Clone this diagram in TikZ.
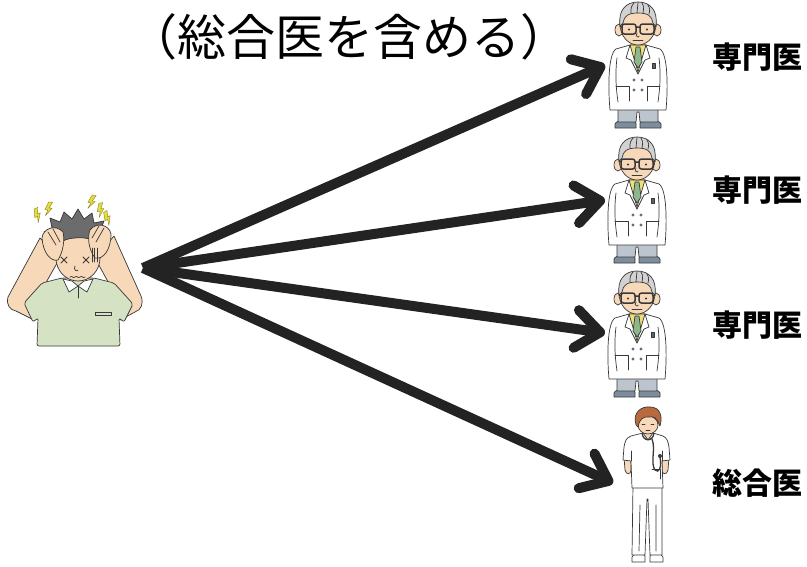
\documentclass[tikz,border=0pt]{standalone}
\usepackage{fontspec}
\newfontfamily\jpfont{Noto Sans CJK JP}
\usetikzlibrary{arrows.meta}

\definecolor{arrowink}{HTML}{232323}
\definecolor{outline}{HTML}{383838}
\definecolor{skin}{HTML}{F7D8B8}
\definecolor{grayhair}{HTML}{D2D2D2}
\definecolor{shirtyellow}{HTML}{EDE07A}
\definecolor{tiegreen}{HTML}{8FB78C}
\definecolor{pantsgray}{HTML}{BCC5CE}
\definecolor{shoegray}{HTML}{7E8D9D}
\definecolor{teeshirt}{HTML}{D5E2C4}
\definecolor{darkhair}{HTML}{6C6C6C}
\definecolor{boltyellow}{HTML}{E8DC3C}
\definecolor{brownhair}{HTML}{B66A3E}

\tikzset{
  ink/.style={draw=outline, line width=0.7pt, line join=round, line cap=round},
  referral/.style={draw=arrowink, line width=10pt,
    -{Straight Barb[length=24pt,width=38pt,line cap=round,line join=round]}},
  titletext/.style={font=\jpfont\fontsize{49}{55}\selectfont, inner sep=0pt},
  role/.style={font=\jpfont\bfseries\fontsize{30}{34}\selectfont, inner sep=0pt},
  % small yellow lightning bolt
  pics/bolt/.style={code={
    \filldraw[fill=boltyellow, draw=boltyellow!60!black, line width=0.4pt, line join=round]
      (-1,-7) -- (3,-7) -- (0,-1) -- (3,-1) -- (-3,7) -- (-1,1) -- (-4,1) -- cycle;
  }},
  % senior doctor in a white coat, origin between the lenses
  pics/specialist/.style={code={
    % shoes
    \filldraw[ink, fill=shoegray] (-23,100) -- (-23,96) .. controls (-22,91) and (-4,91) .. (-2,95) -- (-2,100) -- cycle;
    \filldraw[ink, fill=shoegray] (2,100) -- (2,95) .. controls (4,91) and (22,91) .. (23,96) -- (23,100) -- cycle;
    % trousers
    \filldraw[ink, fill=pantsgray] (-20,76) -- (-20,94) -- (-2,94) -- (-1,84) -- (1,84) -- (2,94) -- (20,94) -- (20,76) -- cycle;
    % coat
    \filldraw[ink, fill=white] (-8,17) -- (-22,21) .. controls (-30,26) and (-30,60) .. (-28,82)
      -- (28,82) .. controls (30,60) and (30,26) .. (22,21) -- (8,17) -- cycle;
    % inner arm lines
    \draw[ink] (-21,30) .. controls (-23,46) and (-22,60) .. (-20,74);
    \draw[ink] (21,30) .. controls (23,46) and (22,60) .. (20,74);
    % shirt and tie
    \filldraw[ink, fill=shirtyellow] (-8,17) -- (8,17) -- (0,44) -- cycle;
    \filldraw[ink, fill=tiegreen] (-2,19) -- (2,19) -- (4,34) -- (0,40) -- (-4,34) -- cycle;
    % lapels
    \draw[ink] (-8,17) -- (-12,30) -- (-7,32) -- (0,46);
    \draw[ink] (8,17) -- (12,30) -- (7,32) -- (0,46);
    % pockets
    \draw[ink] (-22,58) -- (-9,58) -- (-9,73);
    \draw[ink] (22,58) -- (9,58) -- (9,73);
    % buttons
    \foreach \bx/\by in {-4/52,4/52,-4/62,4/62}
      \draw[ink, line width=0.5pt] (\bx,\by) circle[radius=1.3];
    % badge
    \filldraw[ink, fill=shoegray!70!black] (14,35) rectangle (17,40);
    % ears
    \filldraw[ink, fill=skin] (-19,2) ellipse[x radius=4, y radius=6];
    \filldraw[ink, fill=skin] (19,2) ellipse[x radius=4, y radius=6];
    % face
    \filldraw[ink, fill=skin] (0,-4) ellipse[x radius=18, y radius=21];
    % hair
    \filldraw[ink, fill=grayhair] (-18,-2) .. controls (-20,-18) and (-12,-26) .. (0,-26)
      .. controls (12,-26) and (20,-18) .. (18,-2) -- (15,-5) .. controls (14,-12) and (10,-15) .. (0,-15)
      .. controls (-10,-15) and (-14,-12) .. (-15,-5) -- cycle;
    \draw[ink] (-7,-15) .. controls (-7,-21) .. (-4,-25);
    \draw[ink] (-1,-15) -- (0,-25.5);
    \draw[ink] (5,-15) .. controls (6,-21) .. (4,-25);
    \draw[ink] (11,-14) .. controls (12,-19) .. (10,-23);
    % glasses
    \draw[ink, line width=1.5pt, rounded corners=2.5pt] (-16,-4) rectangle (-2,6) (2,-4) rectangle (16,6);
    \draw[ink, line width=1.5pt] (-2,-1) -- (2,-1) (-16,-1) -- (-18,-2) (16,-1) -- (18,-2);
    % eyes, nose, mouth
    \fill[outline] (-9,1.5) circle[radius=1.2] (9,1.5) circle[radius=1.2];
    \draw[ink] (-1,5) .. controls (-4,9) and (2,10) .. (1,8);
    \draw[ink] (-5,12) -- (5,12);
  }},
  % general physician in scrubs with a stethoscope, origin at the face
  pics/generalist/.style={code={
    % shoes
    \filldraw[ink, fill=white] (-16,137) -- (-16,132) .. controls (-15,127) and (-4,127) .. (-3,131) -- (-3,137) -- cycle;
    \filldraw[ink, fill=white] (2,137) -- (2,131) .. controls (3,127) and (14,127) .. (15,132) -- (15,137) -- cycle;
    % trousers
    \filldraw[ink, fill=white] (-15,60) -- (-16,130) -- (-3,130) -- (-1,74) -- (0,74) -- (2,130) -- (14,130) -- (14,60) -- cycle;
    \draw[ink] (-8,80) -- (-9,126) (8,80) -- (8,126);
    % arms and hands
    \filldraw[ink, fill=skin] (-24,32) -- (-23,45) .. controls (-22,50) and (-17,50) .. (-17,45) -- (-17,32) -- cycle;
    \filldraw[ink, fill=skin] (21,32) -- (20,45) .. controls (19,50) and (14,50) .. (14,45) -- (14,32) -- cycle;
    % neck
    \filldraw[ink, fill=skin] (-5,5) -- (5,5) -- (5,9) -- (0,15) -- (-5,9) -- cycle;
    % scrub top
    \filldraw[ink, fill=white] (-5,8) -- (-17,11) .. controls (-22,13) and (-23,16) .. (-24,22) -- (-25,35)
      -- (-17,36) -- (-16,63) -- (15,63) -- (14,36) -- (22,35) -- (21,22)
      .. controls (20,16) and (19,13) .. (15,11) -- (5,8) -- (0,15) -- cycle;
    \draw[ink] (-17,26) -- (-17,36) (14,26) -- (14,36);
    \draw[ink] (4,44) -- (12,44) -- (12,54);
    % stethoscope
    \draw[outline, line width=1.3pt] (-6,8) .. controls (-5,17) and (5,17) .. (6,8);
    \draw[outline, line width=1.3pt] (4,14) .. controls (8,24) and (2,38) .. (7,45) .. controls (11,49) and (14,42) .. (12,32);
    \fill[outline] (12,31) circle[radius=2];
    % face and hair
    \filldraw[ink, fill=skin] (0,0) ellipse[x radius=10, y radius=9];
    \filldraw[ink, fill=brownhair] (-12,0) .. controls (-16,-13) and (-6,-19) .. (2,-18)
      .. controls (12,-18) and (15,-9) .. (12,1) -- (10,-3) .. controls (9,-7) and (5,-9) .. (1,-8)
      .. controls (-5,-9) and (-9,-5) .. (-10,2) -- cycle;
    \draw[ink] (-6,-1) -- (-3,-1) (3,-1) -- (6,-1);
    \draw[ink] (-2,5) -- (2,5);
  }}
}

\begin{document}
\begin{tikzpicture}[x=1pt, y=-1pt]
  \useasboundingbox (0,0) rectangle (807,566);
  \fill[white] (0,0) rectangle (807,566);

  % title
  \node[titletext] (heading) at (349,37) {（総合医を含める）};

  % patient with a headache
  \begin{scope}
    % arms
    \filldraw[ink, fill=skin] (40,238) -- (8,297) .. controls (6,305) and (10,310) .. (16,311)
      -- (34,320) -- (36,300) -- (60,258) -- cycle;
    \filldraw[ink, fill=skin] (114,236) -- (141,296) .. controls (144,304) and (141,310) .. (135,312)
      -- (120,320) -- (118,300) -- (95,258) -- cycle;
    % neck
    \filldraw[ink, fill=skin] (68,270) -- (68,286) -- (88,286) -- (88,270) -- cycle;
    % shirt
    \filldraw[ink, fill=teeshirt, rounded corners=2pt] (62,278) -- (42,283) -- (24,303) -- (33,322)
      -- (38,318) -- (37,346) -- (120,346) -- (119,318) -- (124,322) -- (133,304) -- (114,283)
      -- (94,278) -- cycle;
    \draw[ink] (95,312) -- (111,312) -- (111,315) -- (95,315) -- cycle;
    % collar
    \filldraw[ink, fill=white] (63,279) -- (69,292) -- (78,286) -- (72,281) -- cycle;
    \filldraw[ink, fill=white] (93,279) -- (87,292) -- (78,286) -- (84,281) -- cycle;
    \draw[ink] (78,286) -- (78,298);
    % face
    \filldraw[ink, fill=skin] (78,258) ellipse[x radius=22, y radius=23];
    % hair
    \filldraw[ink, fill=darkhair] (54,250) -- (50,236) -- (44,232) -- (52,228) -- (50,218) -- (60,222)
      -- (64,212) -- (72,219) -- (78,209) -- (84,219) -- (92,213) -- (94,223) -- (104,221) -- (100,231)
      -- (108,236) -- (102,240) -- (103,250) -- (96,242) .. controls (90,236) and (66,236) .. (58,244) -- cycle;
    % hands holding the head
    \filldraw[ink, fill=skin] (42,238) .. controls (43,228) and (56,224) .. (63,232)
      .. controls (65,240) and (63,252) .. (58,260) .. controls (51,262) and (43,253) .. (42,238) -- cycle;
    \draw[ink] (48,232) -- (56,245) (53,229) -- (60,242);
    \filldraw[ink, fill=skin] (111,234) .. controls (109,224) and (96,222) .. (90,230)
      .. controls (87,238) and (89,250) .. (95,258) .. controls (103,260) and (111,250) .. (111,234) -- cycle;
    \draw[ink] (104,228) -- (96,242) (99,226) -- (92,238);
    % crossed eyes, nose, mouth
    \draw[ink, line width=1pt] (61,257) -- (67,263) (61,263) -- (67,257);
    \draw[ink, line width=1pt] (83,257) -- (89,263) (83,263) -- (89,257);
    \draw[ink] (75,266) .. controls (73,270) and (77,272) .. (78,270);
    \draw[ink] (70,277) .. controls (72,275) and (73,279) .. (75,277) .. controls (77,275) and (78,279) .. (80,277)
      .. controls (82,275) and (83,279) .. (85,277);
    \foreach \gx in {92,94.5,97}
      \draw[ink, line width=0.5pt] (\gx,248) -- (\gx,262);
  \end{scope}
  % pain marks
  \pic (boltA) at (38,215) [rotate=25] {bolt};
  \pic (boltB) at (49,209) [rotate=-5] {bolt};
  \pic (boltC) at (92,202) [rotate=-10] {bolt};
  \pic (boltD) at (101,210) [rotate=10] {bolt};
  \pic (boltE) at (108,218) [rotate=30] {bolt};

  % doctors
  \pic (docA) at (638,28) {specialist};
  \pic (docB) at (637,163) {specialist};
  \pic (docC) at (637,297) {specialist};
  \pic (docD) at (648,425) {generalist};

  % role labels
  \node[role] (roleA) at (757,57) {専門医};
  \node[role] (roleB) at (757,190) {専門医};
  \node[role] (roleC) at (757,325) {専門医};
  \node[role] (roleD) at (757,483) {総合医};

  % referral arrows
  \coordinate (src) at (143,268);
  \coordinate (tipA) at (605,65);
  \coordinate (tipB) at (605,200);
  \coordinate (tipC) at (605,333);
  \coordinate (tipD) at (613,483);
  \foreach \t in {tipA,tipB,tipC,tipD}
    \draw[referral] (src) -- (\t);
\end{tikzpicture}
\end{document}
